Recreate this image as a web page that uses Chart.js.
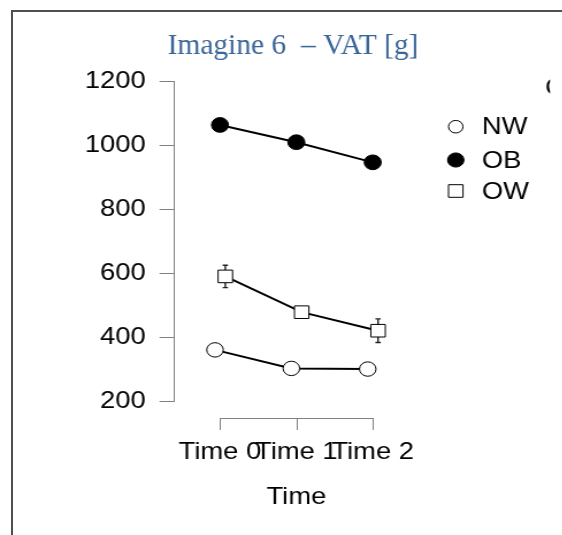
<!DOCTYPE html>
<html>
<head>
<meta charset="utf-8">
<script src="https://cdn.jsdelivr.net/npm/chart.js@4/dist/chart.umd.min.js"></script>
<style>
  html, body { margin: 0; padding: 0; background: #fff; width: 562px; height: 535px; overflow: hidden; }
  #wrap { position: absolute; left: 0; top: 0; width: 489px; height: 535px; transform: scaleX(1.15); transform-origin: 0 0; }
  #frame { position: absolute; left: 11px; top: 10px; width: 600px; height: 600px; border-left: 2px solid #4f4f4f; border-top: 2px solid #4f4f4f; pointer-events: none; }
</style>
</head>
<body>
<div id="wrap"><canvas id="c" width="489" height="535"></canvas></div>
<div id="frame"></div>
<script>
// ---- data ----
const categories = ['Time 0', 'Time 1', 'Time 2'];
const groups = ['NW', 'OB', 'OW'];
const nwValues = [360, 302, 300];
const obValues = [1064, 1010, 947];
const owValues = [590, 478, 420];
const owSE = [35, 15, 37];
const yTickValues = [200, 400, 600, 800, 1000, 1200];
const titleText = 'Imagine 6  \u2013 VAT [g]';
const xTitle = 'Time';
const legendTitle = 'G';

// ---- styling ----
const STRETCH = 1.15;
const FONT = 'Liberation Sans, Arial, sans-serif';
const FS = 23.8;
const AXIS_COLOR = '#808080';

function pts(values, dodge) {
  return values.map((v, i) => ({ x: i + dodge, y: v }));
}

const datasets = [
  { label: groups[0], data: pts(nwValues, -0.065), pointStyle: 'circle', pointRadius: 7.2,
    pointBackgroundColor: '#ffffff', pointBorderColor: '#000', pointBorderWidth: 1,
    borderColor: '#000', borderWidth: 2, tension: 0 },
  { label: groups[1], data: pts(obValues, 0), pointStyle: 'circle', pointRadius: 7.4,
    pointBackgroundColor: '#000', pointBorderColor: '#000', pointBorderWidth: 1,
    borderColor: '#000', borderWidth: 2, tension: 0 },
  { label: groups[2], data: pts(owValues, 0.07), pointStyle: 'rect', pointRadius: 8.9,
    pointBackgroundColor: '#ffffff', pointBorderColor: '#000', pointBorderWidth: 1,
    borderColor: '#000', borderWidth: 2, tension: 0, se: owSE }
];

const errorBars = {
  id: 'errorBars',
  beforeDatasetsDraw(chart) {
    const { ctx, scales: { x, y } } = chart;
    ctx.save();
    ctx.strokeStyle = '#222';
    ctx.lineWidth = 1.4;
    chart.data.datasets.forEach(ds => {
      if (!ds.se) return;
      ds.data.forEach((p, i) => {
        const px = x.getPixelForValue(p.x);
        const top = y.getPixelForValue(p.y + ds.se[i]);
        const bot = y.getPixelForValue(p.y - ds.se[i]);
        ctx.beginPath();
        ctx.moveTo(px, top); ctx.lineTo(px, bot);
        ctx.moveTo(px - 2.3, top); ctx.lineTo(px + 2.3, top);
        ctx.moveTo(px - 2.3, bot); ctx.lineTo(px + 2.3, bot);
        ctx.stroke();
      });
    });
    ctx.restore();
  }
};

const decorations = {
  id: 'decorations',
  afterDraw(chart) {
    const { ctx, scales: { x, y } } = chart;
    ctx.save();
    // x axis (R style, spanning first to last tick, below plot region)
    const ax = y.bottom + 17;
    const x0 = x.getPixelForValue(0);
    const x2 = x.getPixelForValue(categories.length - 1);
    ctx.strokeStyle = AXIS_COLOR;
    ctx.lineWidth = 1;
    ctx.beginPath();
    ctx.moveTo(x0, ax + 0.5); ctx.lineTo(x2, ax + 0.5);
    categories.forEach((c, i) => {
      const px = Math.round(x.getPixelForValue(i)) + 0.5;
      ctx.moveTo(px, ax); ctx.lineTo(px, ax + 12);
    });
    ctx.stroke();
    ctx.fillStyle = '#000';
    ctx.font = FS + 'px ' + FONT;
    ctx.textAlign = 'center';
    ctx.textBaseline = 'middle';
    categories.forEach((c, i) => {
      ctx.fillText(c, x.getPixelForValue(i), ax + 34);
    });
    ctx.fillText(xTitle, x.getPixelForValue(1), ax + 79);

    // legend
    const lx = 396.3;
    const ly = [126.7, 160, 191];
    ctx.textAlign = 'left';
    chart.data.datasets.forEach((ds, i) => {
      ctx.beginPath();
      ctx.lineWidth = 1;
      ctx.strokeStyle = '#000';
      ctx.fillStyle = ds.pointBackgroundColor;
      if (ds.pointStyle === 'rect') {
        ctx.rect(lx - 6.3, ly[i] - 6.3, 12.6, 12.6);
      } else {
        ctx.arc(lx, ly[i], i === 0 ? 6.3 : 7.1, 0, Math.PI * 2);
      }
      ctx.fill();
      ctx.stroke();
      ctx.fillStyle = '#000';
      ctx.fillText(ds.label, 419, ly[i] + 1);
    });
    // clipped legend title
    ctx.save();
    ctx.beginPath();
    ctx.rect(0, 0, 478.3, chart.height);
    ctx.clip();
    ctx.fillText(legendTitle, 473.9, 88);
    ctx.restore();

    // title (unstretched Word heading)
    ctx.translate(293 / STRETCH, 54);
    ctx.scale(1 / STRETCH, 1);
    ctx.font = '29.5px Liberation Serif, Times New Roman, serif';
    ctx.fillStyle = '#3a6598';
    ctx.textAlign = 'center';
    ctx.textBaseline = 'alphabetic';
    ctx.fillText(titleText, 0, 0);
    ctx.restore();
  }
};

new Chart(document.getElementById('c'), {
  type: 'line',
  data: { datasets },
  options: {
    responsive: false,
    animation: false,
    devicePixelRatio: 1,
    layout: { padding: { left: 0, right: 124, top: 81.5, bottom: 134 } },
    plugins: { legend: { display: false }, title: { display: false }, tooltip: { enabled: false } },
    scales: {
      x: { type: 'linear', display: false, min: -0.596, max: 2.616 },
      y: {
        type: 'linear', min: 200, max: 1200,
        afterBuildTicks(s) { s.ticks = yTickValues.map(v => ({ value: v })); },
        afterFit(s) { s.width = 151.7; },
        ticks: { color: '#000', font: { family: FONT, size: FS }, padding: 12, callback: v => String(v) },
        grid: { display: true, drawOnChartArea: false, drawTicks: true, tickLength: 13, color: AXIS_COLOR, lineWidth: 1 },
        border: { display: true, color: AXIS_COLOR, width: 1 }
      }
    }
  },
  plugins: [errorBars, decorations]
});
</script>
</body>
</html>
